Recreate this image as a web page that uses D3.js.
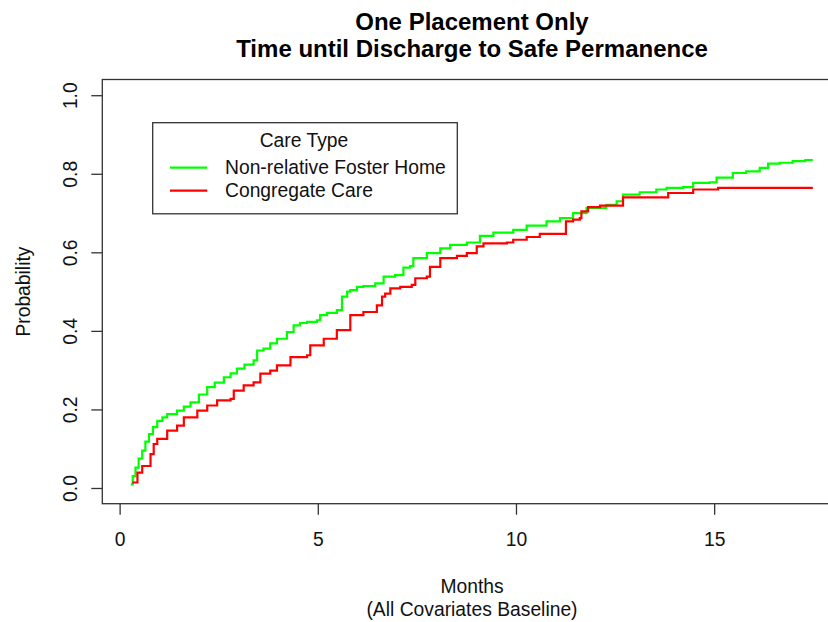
<!DOCTYPE html>
<html>
<head>
<meta charset="utf-8">
<script src="https://cdn.jsdelivr.net/npm/d3@7"></script>
<style>
  html, body { margin: 0; padding: 0; background: #fff; }
  svg { display: block; font-family: "Liberation Sans", Arial, sans-serif; }
</style>
</head>
<body>
<svg id="chart" width="828" height="622"></svg>
<script>
// ---- Data ----
const titleLines = ["One Placement Only", "Time until Discharge to Safe Permanence"];
const xTicks = [0, 5, 10, 15];
const yTicks = [0.0, 0.2, 0.4, 0.6, 0.8, 1.0];
const seriesNames = ["Non-relative Foster Home", "Congregate Care"];
const seriesColors = ["#00ff00", "#ff0000"];

const fosterTime = [0.28,0.33,0.40,0.48,0.57,0.65,0.74,0.84,0.95,1.08,1.20,1.45,1.62,1.79,2.00,2.21,2.40,2.63,2.80,2.96,3.15,3.38,3.47,3.63,3.80,3.97,4.22,4.39,4.55,4.73,4.98,5.06,5.23,5.48,5.61,5.74,5.82,5.99,6.15,6.45,6.66,6.95,7.16,7.33,7.41,7.75,8.09,8.34,8.76,9.09,9.43,9.93,10.27,10.77,11.11,11.44,11.78,12.28,12.54,12.70,13.12,13.54,13.80,14.22,14.47,14.89,15.06,15.47,15.81,16.15,16.36,16.65,16.98,17.30,17.49];
const fosterProb = [0.009,0.030,0.052,0.075,0.095,0.118,0.137,0.155,0.171,0.180,0.188,0.197,0.207,0.218,0.238,0.257,0.268,0.282,0.292,0.304,0.314,0.325,0.350,0.355,0.368,0.380,0.397,0.414,0.420,0.423,0.427,0.440,0.446,0.453,0.487,0.500,0.504,0.512,0.514,0.521,0.538,0.542,0.561,0.565,0.585,0.598,0.610,0.619,0.625,0.642,0.650,0.657,0.668,0.679,0.687,0.700,0.713,0.721,0.730,0.747,0.753,0.760,0.764,0.766,0.777,0.778,0.790,0.802,0.806,0.815,0.826,0.828,0.832,0.835,0.835];

const congTime = [0.32,0.45,0.57,0.78,0.86,0.95,1.20,1.45,1.62,1.96,2.21,2.46,2.80,2.88,3.13,3.38,3.55,3.80,3.97,4.31,4.73,4.81,5.15,5.48,5.82,6.15,6.49,6.62,6.70,6.83,7.08,7.37,7.46,7.75,7.83,8.09,8.51,8.76,9.01,9.18,9.77,9.93,10.27,10.60,11.26,11.44,11.61,11.65,11.82,12.12,12.70,13.84,14.47,15.10,17.49];
const congProb = [0.014,0.039,0.056,0.086,0.112,0.125,0.146,0.159,0.180,0.197,0.210,0.223,0.227,0.248,0.261,0.269,0.291,0.299,0.312,0.333,0.338,0.363,0.380,0.402,0.440,0.448,0.465,0.487,0.495,0.508,0.512,0.517,0.534,0.538,0.563,0.585,0.591,0.598,0.615,0.623,0.625,0.632,0.639,0.647,0.679,0.683,0.687,0.704,0.715,0.719,0.740,0.751,0.760,0.764,0.764];

// ---- Layout ----
const svg = d3.select("#chart");
const box = { left: 102.3, right: 841, top: 79.5, bottom: 503.7 };
const x = d3.scaleLinear().domain([-0.437, 18.2]).range([box.left, box.right]);
const y = d3.scaleLinear().domain([-0.04, 1.04]).range([box.bottom, box.top]);
const axisColor = "#333";
const fs = 19.3;

// Title
svg.append("g").selectAll("text").data(titleLines).join("text")
  .attr("x", 472).attr("y", (d, i) => 21 + i * 27)
  .attr("text-anchor", "middle").attr("dominant-baseline", "central")
  .attr("font-weight", "bold").attr("font-size", 24).attr("fill", "#000")
  .text(d => d);

// Lines
const series = [
  { name: seriesNames[0], color: seriesColors[0], t: fosterTime, p: fosterProb },
  { name: seriesNames[1], color: seriesColors[1], t: congTime, p: congProb }
];
const line = d3.line().x(d => x(d[0])).y(d => y(d[1])).curve(d3.curveStepAfter);
svg.append("g").selectAll("path").data(series).join("path")
  .attr("d", s => line(s.t.map((t, i) => [t, s.p[i]])))
  .attr("fill", "none").attr("stroke", s => s.color)
  .attr("stroke-width", 2.2).attr("stroke-linejoin", "miter");

// Plot box
svg.append("rect")
  .attr("x", box.left).attr("y", box.top)
  .attr("width", box.right - box.left).attr("height", box.bottom - box.top)
  .attr("fill", "none").attr("stroke", axisColor).attr("stroke-width", 1.3);

// X axis
const xAxis = svg.append("g")
  .attr("transform", `translate(0,${box.bottom})`)
  .call(d3.axisBottom(x).tickValues(xTicks).tickSize(11).tickPadding(0).tickFormat(d3.format("d")));
xAxis.select(".domain").remove();
xAxis.selectAll(".tick line").attr("stroke", axisColor).attr("stroke-width", 1.3);
xAxis.selectAll(".tick text")
  .attr("y", 36).attr("dy", null).attr("dominant-baseline", "central")
  .attr("font-size", fs).attr("font-family", "Liberation Sans, Arial, sans-serif").attr("fill", "#111");

// Y axis
const yAxis = svg.append("g")
  .attr("transform", `translate(${box.left},0)`)
  .call(d3.axisLeft(y).tickValues(yTicks).tickSize(11).tickFormat(d3.format(".1f")));
yAxis.select(".domain").remove();
yAxis.selectAll(".tick line").attr("stroke", axisColor).attr("stroke-width", 1.3);
yAxis.selectAll(".tick text")
  .attr("x", null).attr("dy", null)
  .attr("transform", "translate(-32,0) rotate(-90)")
  .attr("text-anchor", "middle").attr("dominant-baseline", "central")
  .attr("font-size", fs).attr("font-family", "Liberation Sans, Arial, sans-serif").attr("fill", "#111");

// Axis titles
svg.append("text").attr("x", 472).attr("y", 586)
  .attr("text-anchor", "middle").attr("dominant-baseline", "central")
  .attr("font-size", fs).attr("fill", "#111").text("Months");
svg.append("text").attr("x", 472).attr("y", 609)
  .attr("text-anchor", "middle").attr("dominant-baseline", "central")
  .attr("font-size", fs).attr("fill", "#111").text("(All Covariates Baseline)");
svg.append("text")
  .attr("transform", `translate(23,${(box.top + box.bottom) / 2}) rotate(-90)`)
  .attr("text-anchor", "middle").attr("dominant-baseline", "central")
  .attr("font-size", fs).attr("fill", "#111").text("Probability");

// Legend
const lg = svg.append("g");
lg.append("rect").attr("x", 152.7).attr("y", 122.7).attr("width", 457.3 - 152.7).attr("height", 213.8 - 122.7)
  .attr("fill", "#fff").attr("stroke", axisColor).attr("stroke-width", 1.3);
lg.append("text").attr("x", 304).attr("y", 140.5)
  .attr("text-anchor", "middle").attr("dominant-baseline", "central")
  .attr("font-size", fs).attr("fill", "#111").text("Care Type");
const items = lg.selectAll("g.item").data(series).join("g").attr("class", "item")
  .attr("transform", (d, i) => `translate(0,${167.7 + i * 23})`);
items.append("line").attr("x1", 170).attr("x2", 207.3)
  .attr("stroke", d => d.color).attr("stroke-width", 2.2);
items.append("text").attr("x", 225).attr("y", 0).attr("dominant-baseline", "central")
  .attr("font-size", fs).attr("fill", "#111").text(d => d.name);
</script>
</body>
</html>
